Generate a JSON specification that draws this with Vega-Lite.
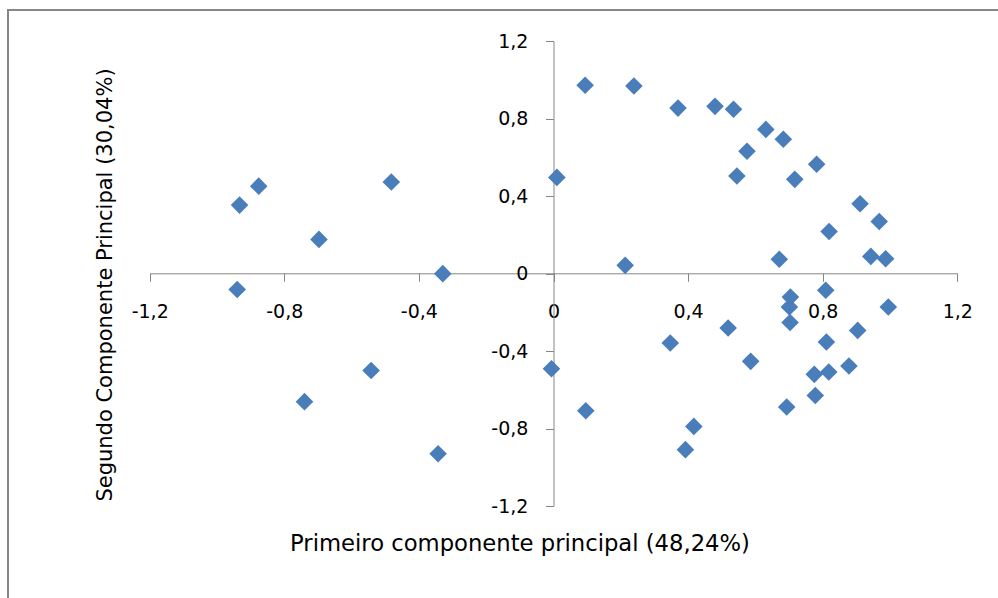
{
  "$schema": "https://vega.github.io/schema/vega-lite/v6.json",
  "width": 1000,
  "height": 600,
  "autosize": "none",
  "padding": {"left": 8, "top": 10, "right": 0, "bottom": 0},
  "background": "white",
  "config": {"view": {"stroke": "#868686", "strokeWidth": 2}, "font": "DejaVu Sans"},
  "data": {"values": [
    {"pc1": -0.876, "pc2": 0.452},
    {"pc1": -0.933, "pc2": 0.354},
    {"pc1": -0.482, "pc2": 0.473},
    {"pc1": -0.697, "pc2": 0.177},
    {"pc1": -0.329, "pc2": 0.0},
    {"pc1": -0.940, "pc2": -0.082},
    {"pc1": -0.542, "pc2": -0.500},
    {"pc1": -0.740, "pc2": -0.661},
    {"pc1": -0.343, "pc2": -0.930},
    {"pc1": 0.094, "pc2": 0.973},
    {"pc1": 0.239, "pc2": 0.969},
    {"pc1": 0.370, "pc2": 0.855},
    {"pc1": 0.480, "pc2": 0.864},
    {"pc1": 0.535, "pc2": 0.849},
    {"pc1": 0.631, "pc2": 0.745},
    {"pc1": 0.683, "pc2": 0.694},
    {"pc1": 0.575, "pc2": 0.632},
    {"pc1": 0.545, "pc2": 0.504},
    {"pc1": 0.717, "pc2": 0.487},
    {"pc1": 0.782, "pc2": 0.565},
    {"pc1": 0.010, "pc2": 0.497},
    {"pc1": 0.911, "pc2": 0.361},
    {"pc1": 0.968, "pc2": 0.269},
    {"pc1": 0.819, "pc2": 0.218},
    {"pc1": 0.943, "pc2": 0.089},
    {"pc1": 0.987, "pc2": 0.077},
    {"pc1": 0.671, "pc2": 0.074},
    {"pc1": 0.213, "pc2": 0.043},
    {"pc1": 0.809, "pc2": -0.086},
    {"pc1": 0.704, "pc2": -0.121},
    {"pc1": 0.701, "pc2": -0.172},
    {"pc1": 0.703, "pc2": -0.252},
    {"pc1": 0.519, "pc2": -0.281},
    {"pc1": 0.904, "pc2": -0.293},
    {"pc1": 0.347, "pc2": -0.358},
    {"pc1": 0.811, "pc2": -0.353},
    {"pc1": 0.586, "pc2": -0.453},
    {"pc1": -0.006, "pc2": -0.491},
    {"pc1": 0.878, "pc2": -0.477},
    {"pc1": 0.775, "pc2": -0.520},
    {"pc1": 0.818, "pc2": -0.508},
    {"pc1": 0.778, "pc2": -0.629},
    {"pc1": 0.693, "pc2": -0.689},
    {"pc1": 0.096, "pc2": -0.708},
    {"pc1": 0.417, "pc2": -0.789},
    {"pc1": 0.392, "pc2": -0.909},
    {"pc1": 0.995, "pc2": -0.172}
  ]},
  "mark": {"type": "point", "shape": "diamond", "filled": true, "size": 310, "color": "#4a7ebb", "opacity": 1},
  "encoding": {
    "x": {
      "field": "pc1", "type": "quantitative",
      "scale": {"domain": [-1.2, 1.2], "range": [141.7, 949.3], "nice": false, "zero": false},
      "axis": {
        "title": "Primeiro componente principal (48,24%)",
        "values": [-1.2, -0.8, -0.4, 0, 0.4, 0.8, 1.2],
        "labelExpr": "datum.value == 0 ? '0' : (datum.value < 0 ? '-' : '') + replace(format(abs(datum.value), '.1f'), '.', ',')",
        "grid": false,
        "offset": -336.7,
        "domainColor": "#868686",
        "tickColor": "#868686",
        "tickSize": 8,
        "labelPadding": 20.7,
        "labelFont": "DejaVu Sans",
        "labelFontSize": 19,
        "labelColor": "#000000",
        "labelOverlap": false,
        "labelFlush": false,
        "titleFont": "DejaVu Sans",
        "titleFontSize": 22.7,
        "titleFontWeight": "normal",
        "titleColor": "#000000",
        "titleX": 511.5,
        "titleY": 276.7,
        "titleBaseline": "alphabetic",
        "titleAlign": "center"
      }
    },
    "y": {
      "field": "pc2", "type": "quantitative",
      "scale": {"domain": [-1.2, 1.2], "range": [496, 31.3], "nice": false, "zero": false},
      "axis": {
        "title": "Segundo Componente Principal (30,04%)",
        "values": [-1.2, -0.8, -0.4, 0, 0.4, 0.8, 1.2],
        "labelExpr": "datum.value == 0 ? '0' : (datum.value < 0 ? '-' : '') + replace(format(abs(datum.value), '.1f'), '.', ',')",
        "grid": false,
        "offset": -545.5,
        "domainColor": "#868686",
        "tickColor": "#868686",
        "tickSize": 8,
        "labelPadding": 17.6,
        "labelFont": "DejaVu Sans",
        "labelFontSize": 19,
        "labelColor": "#000000",
        "labelOverlap": false,
        "labelFlush": false,
        "titleFont": "DejaVu Sans",
        "titleFontSize": 21,
        "titleFontWeight": "normal",
        "titleColor": "#000000",
        "titleX": -441.8,
        "titleY": 274.5,
        "titleAngle": 270,
        "titleBaseline": "alphabetic",
        "titleAlign": "center"
      }
    }
  }
}
